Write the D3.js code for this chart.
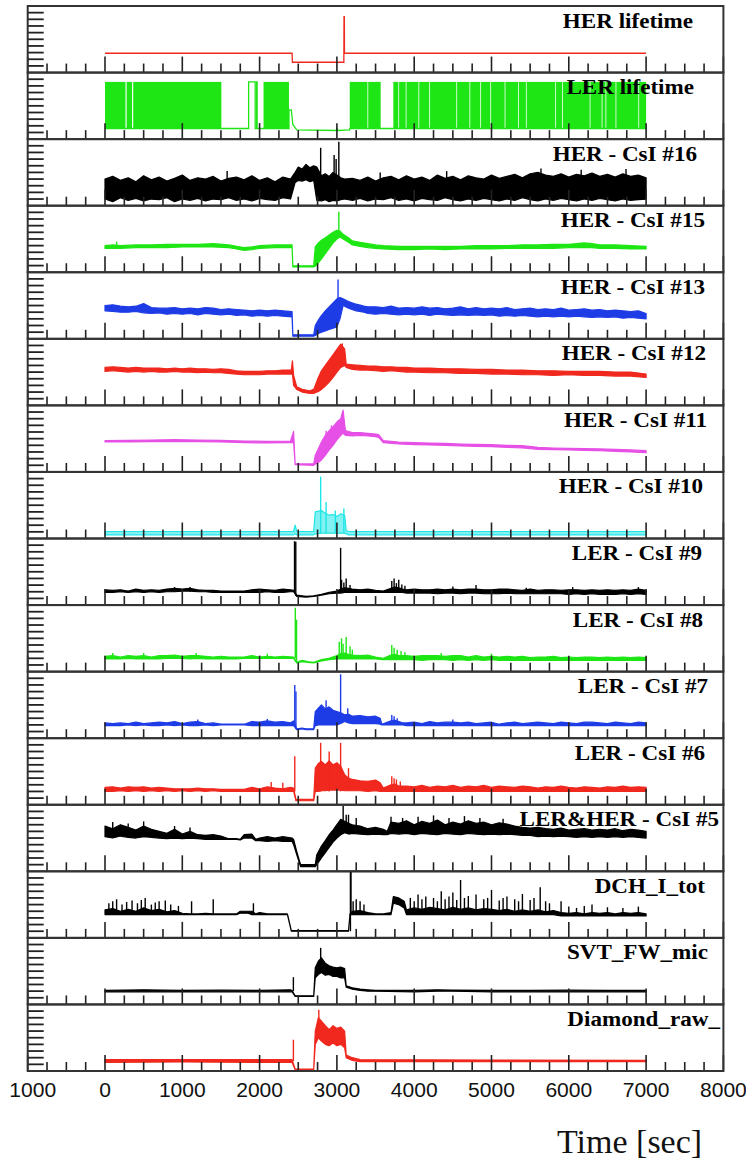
<!DOCTYPE html>
<html><head><meta charset="utf-8">
<script src="https://cdn.jsdelivr.net/npm/d3@7"></script>
<style>body{margin:0;background:#fff}svg{display:block}</style>
</head><body>
<svg id="chart" width="746" height="1168"></svg>
<script>
// ---------------- DATA (values in % of each panel's height) ----------------
const panelLabels = ["HER lifetime","LER lifetime","HER - CsI #16","HER - CsI #15","HER - CsI #13","HER - CsI #12","HER - CsI #11","HER - CsI #10","LER - CsI #9","LER - CsI #8","LER - CsI #7","LER - CsI #6","LER&HER - CsI #5","DCH_I_tot","SVT_FW_mic","Diamond_raw_"];
const xTickValues = [-1000,0,1000,2000,3000,4000,5000,6000,7000,8000];
const xTickLabels = ["1000","0","1000","2000","3000","4000","5000","6000","7000","8000"];
const xTitle = "Time [sec]";

// HER lifetime: [t, v]
const herLife = [[0,29],[2420,29],[2425,15.5],[3090,15.5],[3092,84],[3096,84],[3098,29],[7000,29]];
// LER lifetime: fluctuating intervals [t0,t1] and the underlying line [t,v]
const lerLifeBands = [[0,265],[280,350],[365,1505],[2051,2380],[3166,3395],[3405,3566],[3730,3795],[3805,3890],[3900,4055],[4065,4195],[4205,4545],[4555,4715],[4725,4855],[4865,4985],[4995,5170],[5180,5345],[5355,5445],[5455,5825],[5835,5915],[5925,6270],[6280,6425],[6435,6475],[6485,6605],[6615,6900],[6910,7000]];
const lerLifeRange = [16,86];
const lerLifeLine = [[0,16],[1858,16],[1858,86],[1943,86],[1943,16],[1962,16],[1962,86],[1968,86],[1968,16],[2380,16],[2380,44],[2410,44],[2430,22],[2480,14],[3000,13],[3005,17],[3010,13],[3166,14],[3166,16],[7000,16]];

// noisy series: [t, low, high]; spikes: [t, from, to]
const csi16 = [[0,10,40],[100,6,44],[200,12,38],[300,8,42],[400,11,36],[500,7,45],[600,10,39],[700,9,43],[800,12,37],[900,6,41],[1000,10,46],[1100,8,38],[1200,11,42],[1300,7,40],[1400,10,44],[1500,9,37],[1600,12,41],[1700,8,43],[1800,10,39],[1900,7,45],[2000,11,38],[2100,9,42],[2200,8,36],[2300,12,43],[2400,10,40],[2460,35,50],[2500,38,58],[2550,37,55],[2600,39,62],[2650,36,57],[2700,38,60],[2740,8,58],[2800,7,45],[2850,9,48],[2900,6,44],[2950,8,50],[3000,7,46],[3050,9,42],[3100,10,40],[3200,8,41],[3300,11,38],[3400,7,43],[3500,10,37],[3600,9,42],[3700,12,44],[3800,8,39],[3900,10,45],[4000,7,40],[4100,11,43],[4200,9,38],[4300,8,46],[4400,12,41],[4500,9,44],[4600,7,39],[4700,10,45],[4800,8,42],[4900,11,40],[5000,9,46],[5100,7,41],[5200,10,44],[5300,8,47],[5400,12,42],[5500,9,48],[5600,7,50],[5700,10,46],[5800,8,44],[5900,11,48],[6000,9,43],[6100,7,47],[6200,10,45],[6300,8,49],[6400,11,44],[6500,9,47],[6600,7,43],[6700,10,48],[6800,8,44],[6900,9,46],[7000,10,42]];
const csi16Spikes = [[2790,40,87],[2964,40,76],[2990,40,70],[3025,40,96],[1580,20,52],[3560,20,50],[4420,20,52],[5640,20,56],[6160,20,54],[6740,20,55]];

const csi15 = [[0,36,40],[100,36,41],[200,36,40],[400,37,41],[600,37,41],[800,37,42],[1000,38,42],[1200,38,42],[1400,38,43],[1600,37,41],[1700,35,39],[1800,33,37],[1900,34,38],[2000,36,40],[2200,37,41],[2420,37,41],[2430,8,9.5],[2700,8,10],[2720,9,38],[2760,14,44],[2800,20,48],[2850,28,52],[2900,36,56],[2950,44,60],[3000,50,63],[3040,53,62],[3080,50,57],[3150,45,52],[3200,41,47],[3300,39,45],[3400,37,43],[3500,36,41],[3600,35,40],[3800,34,39],[4000,34,39],[4200,35,39],[4400,34,39],[4600,35,39],[4800,35,40],[5000,35,40],[5200,36,40],[5400,36,41],[5600,36,41],[5800,36,42],[6000,37,42],[6200,37,44],[6300,37,43],[6400,36,41],[6600,36,41],[6800,35,40],[7000,35,39]];
const csi15Spikes = [[3025,55,91],[150,38,46]];

const csi13 = [[0,42,50],[100,41,51],[200,40,49],[300,40,48],[400,41,49],[500,39,53],[600,38,47],[700,39,46],[800,37,46],[900,38,47],[1000,37,45],[1100,38,46],[1200,36,45],[1300,38,47],[1400,37,46],[1500,36,44],[1600,37,45],[1700,35,44],[1800,36,43],[1900,34,42],[2000,35,43],[2100,34,42],[2200,35,43],[2300,34,42],[2420,33,41],[2430,4,6],[2700,4,6],[2720,5,20],[2760,8,28],[2800,10,35],[2850,12,42],[2900,14,48],[2950,16,54],[3000,18,60],[3040,30,62],[3080,50,60],[3150,46,56],[3250,42,52],[3350,40,49],[3400,38,48],[3500,37,48],[3600,38,47],[3700,37,49],[3800,36,46],[3900,37,47],[4000,36,46],[4100,37,48],[4200,35,46],[4300,37,47],[4400,36,45],[4500,35,46],[4600,36,48],[4700,35,45],[4800,36,47],[4900,35,45],[5000,36,46],[5100,34,45],[5200,35,47],[5300,34,44],[5400,35,45],[5500,34,46],[5600,33,44],[5700,34,45],[5800,33,44],[5900,34,46],[6000,33,43],[6100,34,44],[6200,33,45],[6300,32,43],[6400,33,44],[6500,32,42],[6600,33,43],[6700,31,42],[6800,32,41],[6900,31,42],[7000,30,38]];
const csi13Spikes = [[3015,55,89]];

const csi12 = [[0,51,57],[100,52,58],[200,51,57],[300,50,56],[400,51,57],[500,50,56],[600,51,56],[700,50,56],[800,50,55],[900,51,56],[1000,50,55],[1100,50,56],[1200,49,55],[1300,50,55],[1400,49,54],[1500,49,55],[1600,48,54],[1700,47,52],[1800,46,51],[1900,46,51],[2000,46,51],[2100,47,52],[2200,47,52],[2300,47,53],[2410,47,53],[2425,47,67],[2440,30,45],[2480,24,28],[2550,20,24],[2650,18,22],[2700,18,24],[2720,19,30],[2760,21,42],[2800,24,52],[2850,29,60],[2900,35,68],[2950,42,76],[3000,50,84],[3050,57,92],[3100,60,85],[3120,57,62],[3200,54,61],[3300,53,60],[3400,53,59],[3500,52,59],[3600,51,58],[3700,52,58],[3800,51,57],[3900,50,57],[4000,50,56],[4200,49,56],[4400,49,55],[4600,48,55],[4800,48,54],[5000,47,54],[5200,47,53],[5400,46,53],[5600,46,52],[5800,45,52],[6000,46,51],[6200,45,51],[6400,45,51],[6600,44,50],[6800,44,50],[7000,42,47]];
const csi12Spikes = [[3070,60,93]];

const csi11 = [[0,45,47],[300,45,47.5],[600,45.5,48],[900,46,48.5],[1200,45.5,48],[1500,45,47.5],[1800,44,46.5],[2100,43.5,46],[2400,44,46.5],[2440,44,61],[2460,11,12],[2700,10,12],[2720,12,25],[2760,14,35],[2800,18,45],[2850,25,55],[2900,33,62],[2950,40,68],[3000,48,75],[3050,55,80],[3080,58,93],[3110,55,62],[3200,54,59],[3300,55,59],[3400,54,58],[3500,53,57],[3540,52,56],[3600,44,47],[3800,42,45],[4000,41,44],[4200,40.5,43.5],[4400,40,43],[4600,39,42],[4800,38.5,41.5],[5000,38,41],[5200,37,40],[5400,36,39.5],[5600,34,37],[5800,33.5,36],[6000,33,35.5],[6200,32.5,35],[6400,32,34.5],[6600,31,34],[6800,30,33],[7000,29,32]];
const csi11Spikes = [[2860,30,62],[2930,38,70]];

const csi10 = [[0,5.5,10.5],[2440,5.5,10.5],[2460,7,20],[2480,5.5,10.5],[2700,5.5,10.5],[2720,7,40],[2800,8,42],[2850,8,38],[2900,8,35],[2950,8,36],[3000,8,33],[3050,8,37],[3100,8,35],[3120,7,12],[3150,5.5,10.5],[7000,5.5,10.5]];
const csi10Spikes = [[2790,8,93],[2860,8,55],[2980,8,42],[3090,8,45]];

const csi9 = [[0,19,23],[100,19,22],[200,20,23],[300,19,21],[400,20,24],[500,19,22],[600,20,23],[700,19,22],[800,20,24],[900,20,25],[1000,21,24],[1100,21,25],[1200,20,23],[1300,20,22],[1400,19,22],[1500,19,21],[1600,19,21],[1700,19,21],[1800,19,21],[1900,19,23],[2000,19,24],[2100,20,23],[2200,19,22],[2300,19,24],[2400,20,23],[2440,20,22],[2480,13,15],[2600,12,13],[2700,13,14],[2800,15,16],[2900,17,19],[3000,18,21],[3050,18,24],[3100,19,26],[3150,19,25],[3200,19,24],[3300,19,23],[3400,19,24],[3500,19,22],[3600,19,21],[3700,19,25],[3750,19,27],[3800,19,26],[3850,19,24],[3900,18,23],[4000,18,24],[4100,18,23],[4200,18,23],[4300,17,24],[4400,18,23],[4500,18,24],[4600,17,23],[4700,18,24],[4800,18,24],[4900,17,23],[5000,17,23],[5100,17,24],[5200,18,24],[5300,17,23],[5400,17,22],[5500,17,24],[5600,17,22],[5700,17,23],[5800,17,23],[5900,17,22],[6000,16,23],[6100,17,23],[6200,16,22],[6300,17,23],[6400,16,22],[6500,16,23],[6600,16,22],[6700,17,23],[6800,16,22],[6900,17,24],[7000,16,22]];
const csi9Spikes = [[2452,20,96],[2468,14,95],[3048,20,86],[3060,20,38],[3090,20,34],[3120,20,40],[3170,20,30],[3710,19,36],[3740,19,40],[3770,19,33],[3800,19,38],[3840,19,31],[3880,19,29],[4500,18,28],[4800,18,30],[5450,17,26],[6050,17,27],[6900,17,27],[900,20,27],[1100,20,27]];

const csi8 = [[0,19,23],[100,19,24],[200,19,22],[300,20,24],[400,19,23],[500,19,24],[600,19,22],[700,19,24],[800,20,24],[900,20,25],[1000,20,23],[1100,19,24],[1200,20,24],[1300,19,23],[1400,19,22],[1500,19,23],[1600,19,22],[1700,19,22],[1800,20,22],[1900,20,24],[2000,20,22],[2100,20,23],[2200,20,22],[2300,20,23],[2440,20,22],[2480,13,14],[2550,15,17],[2620,14,15],[2700,13,14],[2800,16,18],[2900,18,20],[3000,19,24],[3050,19,27],[3100,19,28],[3150,19,26],[3200,19,25],[3300,19,24],[3400,19,25],[3500,19,22],[3600,18,20],[3700,18,25],[3750,18,26],[3800,18,24],[3900,18,24],[4000,18,23],[4100,17,24],[4200,18,24],[4300,18,24],[4400,18,23],[4500,17,24],[4600,18,24],[4700,17,22],[4800,18,24],[4900,17,22],[5000,18,23],[5100,17,22],[5200,17,23],[5300,17,22],[5400,17,23],[5500,17,21],[5600,17,22],[5700,17,22],[5800,17,23],[5900,17,21],[6000,17,22],[6100,17,21],[6200,17,22],[6300,17,22],[6400,17,21],[6500,17,22],[6600,17,21],[6700,17,22],[6800,17,21],[6900,17,22],[7000,17,21]];
const csi8Spikes = [[2462,20,96],[2478,14,78],[3030,19,45],[3060,19,50],[3080,19,42],[3120,19,52],[3170,19,38],[3200,19,33],[3710,18,40],[3740,18,36],[3780,18,33],[3830,18,31],[3880,18,29],[100,20,28],[500,20,28],[1180,20,28],[2100,20,27],[4350,18,28],[5000,18,27]];

const csi7 = [[0,19,23],[100,19,22],[200,19,23],[300,20,22],[400,19,24],[500,20,22],[600,19,23],[700,19,24],[800,20,23],[900,19,25],[1000,20,22],[1100,19,24],[1200,19,25],[1300,20,22],[1400,19,23],[1500,20,21],[1600,20,21],[1700,20,21],[1800,20,21],[1900,19,25],[2000,19,24],[2100,19,26],[2200,19,24],[2300,19,25],[2400,19,23],[2440,19,26],[2480,13,14],[2550,14,15],[2600,13,14],[2700,13,14],[2720,19,40],[2760,20,45],[2800,20,50],[2850,20,44],[2900,20,47],[2950,20,42],[3000,20,40],[3050,22,38],[3100,25,35],[3150,23,36],[3200,22,33],[3300,22,34],[3400,22,32],[3500,22,33],[3560,21,30],[3580,20,21],[3700,20,26],[3750,20,27],[3800,20,25],[3850,20,23],[3900,19,23],[4000,19,24],[4100,19,22],[4200,19,25],[4300,19,23],[4400,19,24],[4500,19,24],[4600,19,23],[4700,19,24],[4800,19,22],[4900,19,23],[5000,19,24],[5100,19,21],[5200,19,23],[5300,19,24],[5400,19,22],[5500,19,23],[5600,19,24],[5700,19,23],[5800,19,22],[5900,19,24],[6000,19,23],[6100,19,22],[6200,19,24],[6300,19,24],[6400,19,23],[6500,19,22],[6600,19,24],[6700,19,23],[6800,19,22],[6900,19,24],[7000,19,23]];
const csi7Spikes = [[2455,20,80],[2470,14,70],[2860,20,57],[3048,25,96],[3140,25,45],[3710,20,35],[3740,20,33],[3780,20,30],[1200,20,28],[2100,20,29],[4500,19,28]];

const csi6 = [[0,20,26],[100,20,27],[200,21,25],[300,20,27],[400,21,26],[500,20,27],[600,21,25],[700,20,26],[800,21,25],[900,20,24],[1000,21,24],[1100,20,24],[1200,21,25],[1300,20,24],[1400,21,24],[1500,20,23],[1600,20,23],[1700,20,23],[1800,20,23],[1900,20,26],[2000,20,24],[2100,20,27],[2200,20,25],[2300,20,24],[2400,20,26],[2440,20,25],[2470,6,8],[2700,6,8],[2720,20,55],[2760,20,62],[2800,21,65],[2850,21,60],[2900,22,66],[2950,22,60],[3000,22,63],[3050,22,58],[3100,21,45],[3150,21,40],[3200,21,38],[3300,21,36],[3400,20,35],[3500,21,37],[3560,20,33],[3600,20,25],[3700,20,30],[3750,20,31],[3800,20,28],[3850,20,28],[3900,20,28],[4000,20,27],[4100,20,29],[4200,20,26],[4300,20,28],[4400,20,27],[4500,20,29],[4600,20,26],[4700,20,28],[4800,20,27],[4900,20,29],[5000,20,26],[5100,20,28],[5200,20,27],[5300,20,26],[5400,20,28],[5500,20,27],[5600,20,25],[5700,20,27],[5800,20,26],[5900,20,28],[6000,20,26],[6100,20,25],[6200,20,27],[6300,20,26],[6400,20,25],[6500,20,27],[6600,20,26],[6700,20,28],[6800,20,26],[6900,20,27],[7000,20,26]];
const csi6Spikes = [[2455,20,73],[2790,20,93],[2900,20,80],[3048,20,93],[3150,21,55],[3710,20,43],[3740,20,40],[3770,20,38],[3820,20,35],[2150,20,34],[2300,20,33]];

const csi5 = [[0,52,68],[100,50,64],[200,53,70],[300,51,66],[400,50,62],[500,52,68],[600,51,63],[700,50,60],[800,49,57],[900,50,63],[1000,49,56],[1100,50,60],[1200,49,55],[1300,48,54],[1400,48,55],[1500,48,53],[1600,48,49],[1700,48,49],[1750,47,48],[1800,50,55],[1900,50,56],[1950,46,48],[2000,46,50],[2100,45,52],[2200,46,50],[2300,45,52],[2420,45,50],[2440,40,48],[2480,25,30],[2530,7,10],[2720,7,10],[2740,10,25],[2800,20,38],[2850,28,46],[2900,36,55],[2950,44,62],[3000,50,70],[3050,55,78],[3100,58,75],[3150,56,72],[3200,57,70],[3300,56,68],[3400,55,64],[3500,56,66],[3600,55,63],[3650,55,60],[3700,57,74],[3800,56,72],[3900,57,76],[4000,55,70],[4100,57,75],[4200,56,72],[4300,55,77],[4400,57,70],[4500,56,74],[4600,55,71],[4700,57,76],[4800,56,72],[4900,55,74],[5000,56,70],[5100,55,73],[5200,56,71],[5300,55,68],[5400,54,66],[5500,54,65],[5600,52,66],[5700,53,64],[5800,52,63],[5900,53,65],[6000,52,62],[6100,51,63],[6200,52,64],[6300,51,62],[6400,52,63],[6500,51,62],[6600,52,64],[6700,51,61],[6800,52,63],[6900,51,62],[7000,50,60]];
const csi5Spikes = [[3081,60,98],[3120,60,85],[3150,57,85],[3250,57,80],[3700,57,82],[3850,57,80],[4050,57,82],[4250,57,84],[4450,57,80],[4650,57,83],[4850,57,80],[5150,57,79],[100,52,74],[300,52,72],[500,52,75],[900,50,68],[1100,50,66]];

const dch = [[0,35,42],[100,35,44],[200,35,40],[300,35,43],[400,35,40],[500,35,45],[600,35,41],[700,35,43],[800,35,39],[900,35,41],[1000,35,37],[1100,35,36],[1200,35,36],[1300,35,37],[1400,35,36],[1500,35,36],[1600,35,36],[1700,35,36],[1750,37,40],[1850,37,40],[1900,35,40],[1950,35,36],[2000,35,38],[2100,35,36],[2200,35,36],[2300,35,36],[2360,35,36],[2410,10,11],[3150,10,11],[3170,35,36],[3200,35,40],[3300,35,41],[3400,35,38],[3500,35,36],[3600,35,36],[3700,35,38],[3730,52,62],[3800,50,60],[3870,45,55],[3900,35,42],[4000,35,45],[4100,35,43],[4200,35,46],[4300,35,44],[4400,35,42],[4500,35,46],[4600,35,43],[4700,35,45],[4800,35,42],[4900,35,44],[5000,35,43],[5100,35,41],[5200,35,43],[5300,35,40],[5400,35,42],[5500,35,40],[5600,35,42],[5700,35,39],[5800,35,41],[5900,33,38],[6000,33,37],[6100,33,38],[6200,33,36],[6300,33,38],[6400,33,37],[6500,33,38],[6600,33,36],[6700,33,38],[6800,33,37],[6900,33,38],[7000,33,36]];
const dchSpikes = [[50,35,52],[100,35,55],[150,35,58],[220,35,50],[280,35,54],[350,35,56],[420,35,52],[470,35,57],[520,35,60],[600,35,50],[650,35,53],[700,35,55],[780,35,56],[850,35,50],[950,35,48],[1120,35,55],[1400,35,58],[1920,35,52],[3175,10,100],[3182,35,100],[3210,35,55],[3250,35,58],[3300,35,55],[3350,35,50],[3950,35,60],[4000,35,55],[4050,35,65],[4100,35,58],[4150,35,62],[4250,35,60],[4300,35,55],[4350,35,70],[4400,35,58],[4450,35,62],[4500,35,68],[4550,35,57],[4600,35,87],[4650,35,60],[4700,35,63],[4800,35,65],[4900,35,58],[4950,35,60],[5000,35,72],[5100,35,56],[5150,35,60],[5200,35,62],[5300,35,58],[5350,35,55],[5400,35,66],[5500,35,57],[5550,35,60],[5630,35,76],[5700,35,55],[5750,35,52],[5900,33,55],[6000,33,47],[6100,33,45],[6200,33,48],[6300,33,50],[6500,33,46],[6700,33,45],[6900,33,47]];

const svt = [[0,19,21],[500,19,22],[1000,19,21],[1500,19,21.5],[2000,19,21],[2400,19,22],[2420,19,21],[2460,12,13],[2700,12,13],[2720,40,55],[2760,45,65],[2800,48,70],[2850,44,62],[2900,45,58],[2950,42,56],[3000,42,55],[3050,40,56],[3100,40,54],[3120,26,28],[3200,23,25],[3300,21,23],[3400,20,22],[3500,20,21],[4000,19,21],[4300,20,22],[4500,20,21.5],[5000,19,21],[5500,19,21],[6000,19,21.5],[6500,19,21],[7000,19,21]];
const svtSpikes = [[2437,20,41],[2790,50,85]];

const diamond = [[0,13,17],[1000,13.5,17],[2000,13,17],[2420,13,17],[2460,2,3],[2700,2,3],[2720,40,60],[2760,50,80],[2800,45,75],[2850,40,68],[2900,38,62],[2950,42,68],[3000,38,64],[3050,40,66],[3100,35,60],[3120,20,24],[3200,16,20],[3300,14,17],[5000,14,16.5],[7000,14,16]];
const diamondSpikes = [[2437,15,47],[2766,50,92]];

// ---------------- LAYOUT / STYLE ----------------
const left = 27.7, right = 723.4, top0 = 6, bottomAll = 1071;
const nP = 16, pH = (bottomAll - top0) / nP;
const RED = "#f0281e", GREEN = "#1ee614", BLUE = "#1e3ce6", MAG = "#e650e6", CYAN = "#1ee6e6", BLK = "#000";
const labelEnd = [693,694,697,705,705,706,707,703,702,703,708,705,719,705,708,720];

const panels = [
  {type:"line", data: herLife, color: RED},
  {type:"lerlife", color: GREEN},
  {type:"band", data: csi16, spikes: csi16Spikes, color: BLK},
  {type:"band", data: csi15, spikes: csi15Spikes, color: GREEN},
  {type:"band", data: csi13, spikes: csi13Spikes, color: BLUE},
  {type:"band", data: csi12, spikes: csi12Spikes, color: RED},
  {type:"band", data: csi11, spikes: csi11Spikes, color: MAG},
  {type:"band", data: csi10, spikes: csi10Spikes, color: CYAN},
  {type:"band", data: csi9, spikes: csi9Spikes, color: BLK},
  {type:"band", data: csi8, spikes: csi8Spikes, color: GREEN},
  {type:"band", data: csi7, spikes: csi7Spikes, color: BLUE},
  {type:"band", data: csi6, spikes: csi6Spikes, color: RED},
  {type:"band", data: csi5, spikes: csi5Spikes, color: BLK},
  {type:"band", data: dch, spikes: dchSpikes, color: BLK},
  {type:"band", data: svt, spikes: svtSpikes, color: BLK},
  {type:"band", data: diamond, spikes: diamondSpikes, color: RED}
];

const svg = d3.select("#chart");
const x = d3.scaleLinear().domain([-1000, 8000]).range([left, right]);
const majorT = xTickValues;
const minorT = d3.range(-1000, 8001, 250).filter(v => v % 1000 !== 0);

panels.forEach((p, i) => {
  const pt = top0 + i * pH, pb = pt + pH;
  const y = d3.scaleLinear().domain([0, 100]).range([pb, pt]);
  const g = svg.append("g");

  if (p.type === "line") {
    g.append("path").datum(p.data)
      .attr("d", d3.line().x(d => x(d[0])).y(d => y(d[1])))
      .attr("fill", "none").attr("stroke", p.color).attr("stroke-width", 1.3);
  } else if (p.type === "lerlife") {
    g.selectAll("rect.b").data(lerLifeBands).join("rect")
      .attr("x", d => x(d[0])).attr("width", d => Math.max(0.8, x(d[1]) - x(d[0])))
      .attr("y", y(lerLifeRange[1])).attr("height", y(lerLifeRange[0]) - y(lerLifeRange[1]))
      .attr("fill", p.color);
    g.append("path").datum(lerLifeLine)
      .attr("d", d3.line().x(d => x(d[0])).y(d => y(d[1])))
      .attr("fill", "none").attr("stroke", p.color).attr("stroke-width", 1.3);
  } else {
    g.append("path").datum(p.data)
      .attr("d", d3.area().x(d => x(d[0])).y0(d => y(d[1])).y1(d => y(d[2])))
      .attr("fill", p.color).attr("fill-opacity", p.color === CYAN ? 0.55 : 1)
      .attr("stroke", p.color).attr("stroke-width", 1.2).attr("stroke-linejoin", "round");
    g.selectAll("line.s").data(p.spikes).join("line")
      .attr("x1", d => x(d[0])).attr("x2", d => x(d[0]))
      .attr("y1", d => y(d[1])).attr("y2", d => y(d[2]))
      .attr("stroke", p.color).attr("stroke-width", 1.4);
  }

  g.selectAll("line.yt").data(d3.range(10, 100, 10)).join("line")
    .attr("x1", left).attr("x2", left + 16)
    .attr("y1", d => y(d)).attr("y2", d => y(d))
    .attr("stroke", "#222").attr("stroke-width", 1.8);
  g.selectAll("line.xM").data(majorT).join("line")
    .attr("x1", d => x(d)).attr("x2", d => x(d))
    .attr("y1", pb).attr("y2", pb - 16)
    .attr("stroke", "#222").attr("stroke-width", 1.6);
  g.selectAll("line.xm").data(minorT).join("line")
    .attr("x1", d => x(d)).attr("x2", d => x(d))
    .attr("y1", pb).attr("y2", pb - 9)
    .attr("stroke", "#222").attr("stroke-width", 1.6);

  g.append("rect").attr("x", left).attr("y", pt).attr("width", right - left).attr("height", pH)
    .attr("fill", "none").attr("stroke", "#333").attr("stroke-width", 2);

  g.append("text")
    .attr("transform", `translate(${labelEnd[i]},${pt + 21.5}) scale(1.1,1)`)
    .attr("text-anchor", "end")
    .attr("font-family", "'Liberation Serif', 'Times New Roman', serif")
    .attr("font-weight", "bold").attr("font-size", 21)
    .attr("fill", "#000").text(panelLabels[i]);
});

svg.append("g").selectAll("text").data(xTickValues).join("text")
  .attr("transform", d => `translate(${x(d) + (d < 0 ? 5 : 0)},1097) scale(1.08,1)`)
  .attr("text-anchor", "middle")
  .attr("font-family", "'Liberation Sans', Arial, sans-serif")
  .attr("font-size", 19.5).attr("fill", "#111")
  .text((d, i) => xTickLabels[i]);

svg.append("text").attr("x", 557).attr("y", 1153)
  .attr("font-family", "'Liberation Serif', 'Times New Roman', serif")
  .attr("font-size", 34).attr("fill", "#111").text(xTitle);
</script>
</body></html>
